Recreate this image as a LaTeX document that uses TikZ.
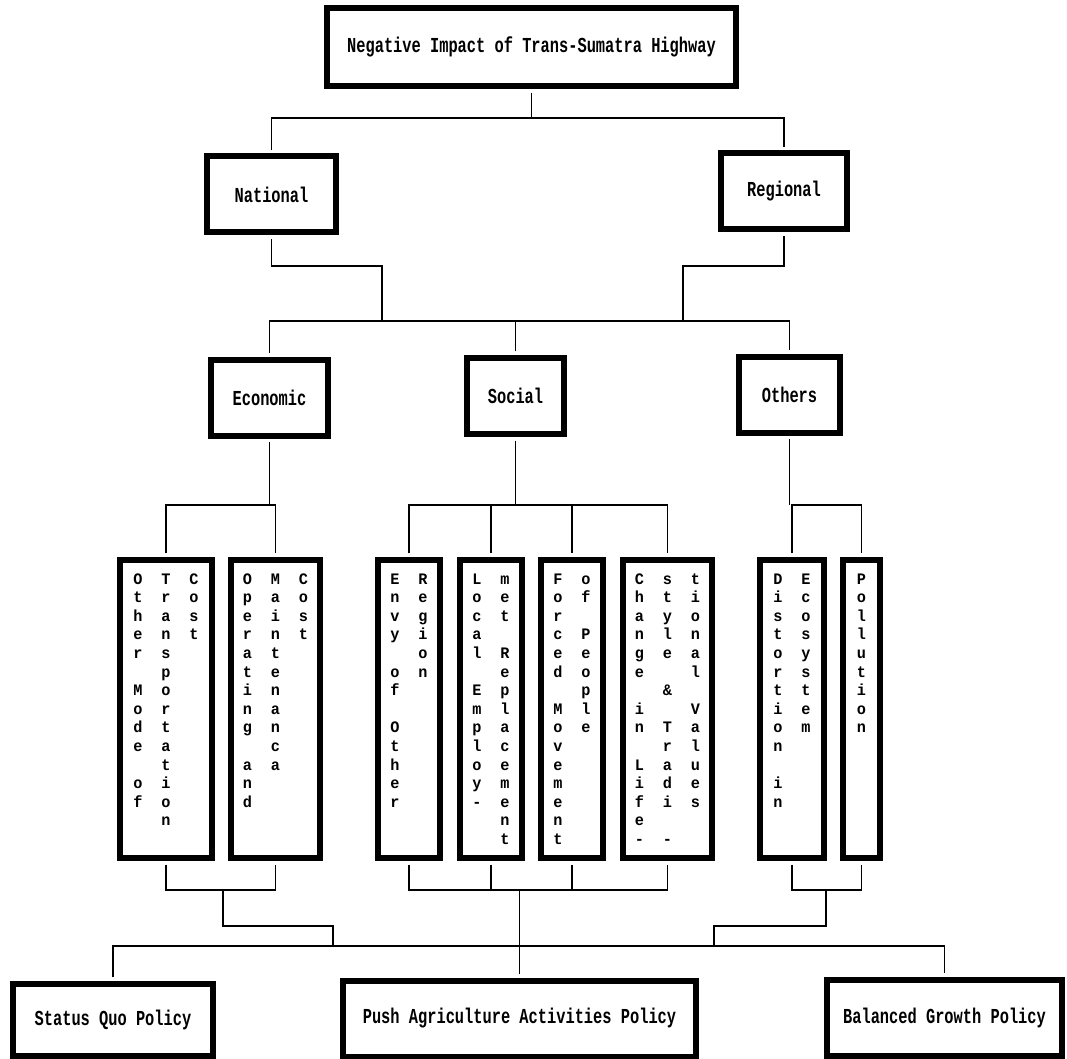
\documentclass[tikz,border=0pt]{standalone}
\usepackage{fontspec}
\newfontfamily\chartfont{Liberation Mono}[FakeStretch=0.72]
\newfontfamily\columnfont{Liberation Mono}[FakeStretch=0.95]

% letters of a word stacked in one column
\ExplSyntaxOn
\NewDocumentCommand \vword { m }
  {
    \hbox_to_wd:nn { 21pt }
      {
        \hfil
        \vtop
          {
            \columnfont\bfseries\fontsize{12pt}{13.95pt}\selectfont
            \baselineskip = 13.95pt
            \lineskiplimit = -20pt
            \tl_map_inline:nn {#1} { \hbox_to_wd:nn { 10pt } { \hss ##1 \hss } }
          }
        \hfil
      }
  }
\ExplSyntaxOff

\tikzset{
  catbox/.style={draw, line width=4.5pt, outer sep=5pt, inner sep=0pt,
    minimum height=57pt},
  itembox/.style={draw, line width=4.5pt, outer sep=5pt, inner sep=0pt,
    text height=18pt, text depth=205.5pt},
  link/.style={line width=1pt}
}

\begin{document}
\begin{tikzpicture}[x=0.75pt, y=-0.75pt,
  font=\chartfont\bfseries\fontsize{16pt}{18pt}\selectfont]
 \path[use as bounding box, fill=white] (0,0) rectangle (1067,1059);

 % levels of the buses
 \coordinate (y1) at (0,118);
 \coordinate (y2) at (0,266);
 \coordinate (y3) at (0,321);
 \coordinate (y4) at (0,505);
 \coordinate (y5) at (0,890);
 \coordinate (y6) at (0,926);
 \coordinate (y7) at (0,946);
 \coordinate (jn) at (382,321);
 \coordinate (jr) at (683,321);
 \coordinate (se) at (223,890);
 \coordinate (so) at (826,890);
 \coordinate (je) at (333,946);
 \coordinate (jo) at (714,946);

 \node[catbox, minimum width=306.75pt, minimum height=58.5pt] (impact)
   at (531.5,47) {Negative Impact of Trans-Sumatra Highway};
 \node[catbox, minimum width=96.75pt] (nat) at (271.5,194.5) {National};
 \node[catbox, minimum width=94.5pt] (reg) at (784,191.5) {Regional};
 \node[catbox, minimum width=87.75pt] (eco) at (269.5,397.5) {Economic};
 \node[catbox, minimum width=72.75pt] (soc) at (515.5,396) {Social};
 \node[catbox, minimum width=75.75pt] (oth) at (789.5,394.5) {Others};

 \node[itembox, minimum width=69pt] (omt) at (166,709)
   {\vword{Other~Mode~of}\vword{Transportation}\vword{Cost}};
 \node[itembox, minimum width=66.75pt] (omc) at (275.5,709)
   {\vword{Operating~and}\vword{Maintenanca}\vword{Cost}};
 \node[itembox, minimum width=46.5pt] (env) at (409,709)
   {\vword{Envy~of~Other}\vword{Region}};
 \node[itembox, minimum width=46.5pt] (emp) at (491,709)
   {\vword{Local~Employ-}\vword{met~Replacement}};
 \node[itembox, minimum width=46.5pt] (mov) at (572,709)
   {\vword{Forced~Movement}\vword{of~People}};
 \node[itembox, minimum width=66.75pt] (lif) at (667.5,709)
   {\vword{Change~in~Life-}\vword{style~\&~Tradi~-}\vword{tional~Values}};
 \node[itembox, minimum width=48pt] (dis) at (792,709)
   {\vword{Distortion~in}\vword{Ecosystem}};
 \node[itembox, minimum width=27.75pt] (pol) at (861.5,709)
   {\vword{Pollution}};

 \node[catbox, minimum width=150pt, minimum height=54pt] (sq)
   at (113,1020) {Status Quo Policy};
 \node[catbox, minimum width=264.75pt] (push)
   at (519.5,1018.5) {Push Agriculture Activities Policy};
 \node[catbox, minimum width=176.25pt] (bal)
   at (944.5,1017.5) {Balanced Growth Policy};

 % top part
 \draw[link] (impact.south) -- (impact.south |- y1);
 \draw[link] (nat.north) |- (reg.north |- y1) -- (reg.north);
 \draw[link] (nat.south) |- (jn |- y2) -- (jn);
 \draw[link] (reg.south) |- (jr |- y2) -- (jr);
 \draw[link] (eco.north) |- (oth.north |- y3) -- (oth.north);
 \draw[link] (soc.north) -- (soc.north |- y3);

 % to the single impacts
 \draw[link] (eco.south) -- (eco.south |- y4);
 \draw[link] (omt.north) |- (omc.north |- y4) -- (omc.north);
 \draw[link] (soc.south) -- (soc.south |- y4);
 \draw[link] (env.north) |- (lif.north |- y4) -- (lif.north);
 \foreach \n in {emp,mov}
   \draw[link] (\n.north) -- (\n.north |- y4);
 \draw[link] (oth.south) -- (oth.south |- y4);
 \draw[link] (dis.north) |- (pol.north |- y4) -- (pol.north);

 % down to the policies
 \draw[link] (omt.south) |- (omc.south |- y5) -- (omc.south);
 \draw[link] (env.south) |- (lif.south |- y5) -- (lif.south);
 \foreach \n in {emp,mov}
   \draw[link] (\n.south) -- (\n.south |- y5);
 \draw[link] (dis.south) |- (pol.south |- y5) -- (pol.south);
 \draw[link] (se) |- (je |- y6) -- (je);
 \draw[link] (so) |- (jo |- y6) -- (jo);
 \draw[link] (push.north |- y5) -- (push.north);
 \draw[link] (sq.north) |- (bal.north |- y7) -- (bal.north);
\end{tikzpicture}
\end{document}
